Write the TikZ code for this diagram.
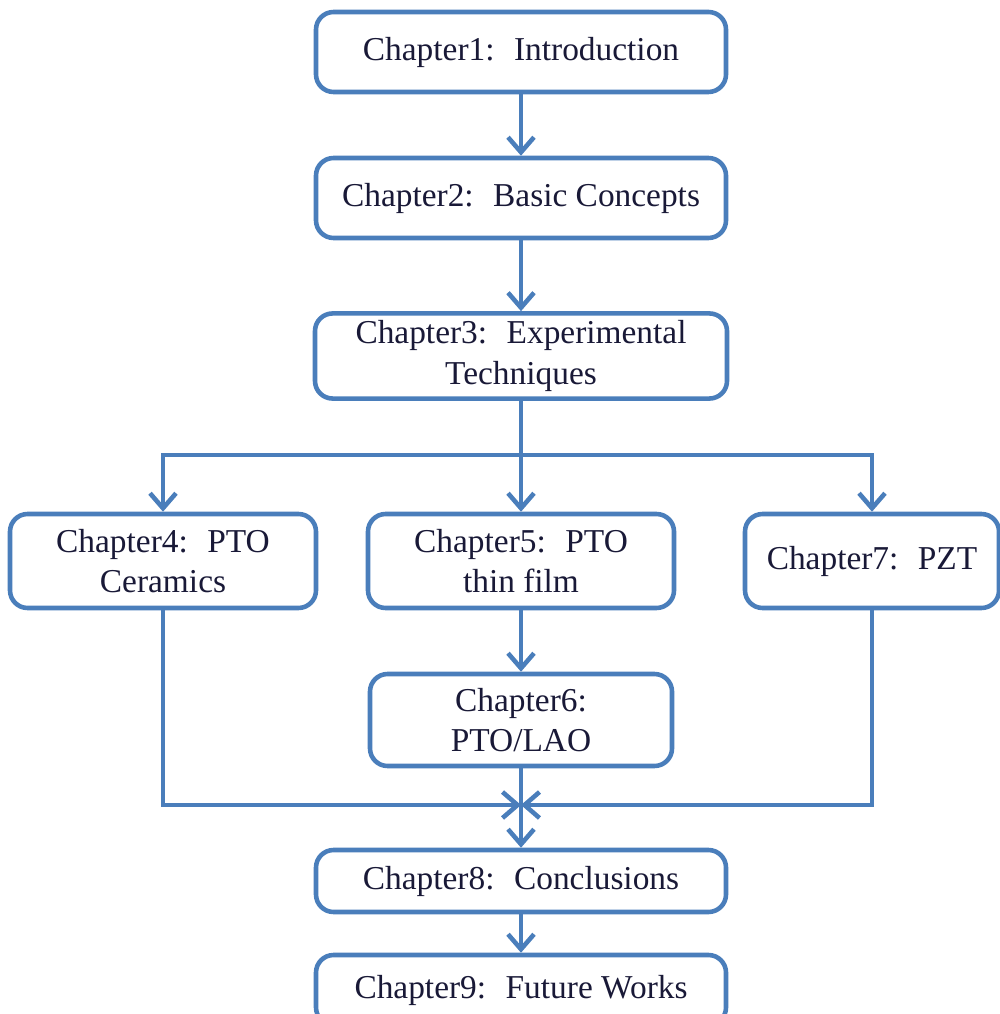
\documentclass[tikz,border=0pt]{standalone}
\usepackage{fontspec}
\setmainfont{Liberation Serif}
\usetikzlibrary{arrows.meta, positioning}

\definecolor{boxblue}{RGB}{74,126,187}
\definecolor{inkdark}{RGB}{25,25,55}

\begin{document}
\begin{tikzpicture}[
    chap/.style={rectangle, rounded corners=5pt, draw=boxblue, line width=1.3pt,
        fill=white, text=inkdark, align=center, inner sep=2pt,
        font=\fontsize{9.5}{11.6}\selectfont},
    link/.style={draw=boxblue, line width=1.3pt},
    arr/.style={link, -{Straight Barb[length=1.5mm,width=2.6mm]}}
]

\useasboundingbox (0,0) rectangle (10,-10.14);

% main column
\node (ch1)[chap, minimum width=4.10cm, minimum height=0.80cm] at (5.21,-0.52) {Chapter1:~ Introduction};
\node (ch2)[chap, minimum width=4.10cm, minimum height=0.80cm] at (5.21,-1.98) {Chapter2:~ Basic Concepts};
\node (ch3)[chap, minimum width=4.12cm, minimum height=0.80cm] at (5.21,-3.56) {Chapter3:~ Experimental\\Techniques};

% three branches
\node (ch4)[chap, minimum width=3.06cm, minimum height=0.94cm] at (1.63,-5.61) {Chapter4:~ PTO\\Ceramics};
\node (ch5)[chap, minimum width=3.06cm, minimum height=0.94cm] at (5.21,-5.61) {Chapter5:~ PTO\\thin film};
\node (ch7)[chap, minimum width=2.54cm, minimum height=0.94cm] at (8.72,-5.61) {Chapter7:~ PZT};
\node (ch6)[chap, minimum width=3.02cm, minimum height=0.92cm] at (5.21,-7.20) {Chapter6:\\PTO/LAO};

% end
\node (ch8)[chap, minimum width=4.10cm, minimum height=0.62cm] at (5.21,-8.81) {Chapter8:~ Conclusions};
\node (ch9)[chap, minimum width=4.10cm, minimum height=0.70cm] at (5.21,-9.90) {Chapter9:~ Future Works};

\coordinate (split) at (5.21,-4.55);
\coordinate (merge) at (5.21,-8.05);

\draw[arr] (ch1) -- (ch2);
\draw[arr] (ch2) -- (ch3);
\draw[link] (ch3) -- (split);
\draw[arr] (split) -| (ch4);
\draw[arr] (split) -- (ch5);
\draw[arr] (split) -| (ch7);
\draw[arr] (ch5) -- (ch6);
\draw[arr] (ch4) |- (merge);
\draw[arr] (ch7) |- (merge);
\draw[arr] (ch6) -- (ch8);
\draw[arr] (ch8) -- (ch9);
\end{tikzpicture}
\end{document}
